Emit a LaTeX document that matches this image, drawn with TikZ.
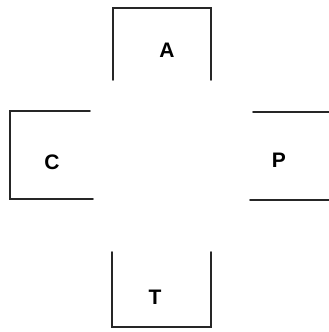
\documentclass[tikz,border=0pt]{standalone}
\usepackage{fontspec}
\setmainfont{Liberation Sans}
\begin{document}
\begin{tikzpicture}[x=1pt,y=-1pt,
  wall/.style={line width=1.8pt,black!85,line cap=round},
  lbl/.style={font=\bfseries\fontsize{21}{24}\selectfont,inner sep=0pt}]
\useasboundingbox (0,0) rectangle (329,332);
% A
\draw[wall] (113,80) -- (113,8) -- (211,8) -- (211,80);
\node[lbl] (A) at (167,50) {A};
% C
\draw[wall] (90,111) -- (10,111) -- (10,199) -- (93,199);
\node[lbl] (C) at (52,162) {C};
% P
\draw[wall] (253,112) -- (329,112);
\draw[wall] (250,200) -- (329,200);
\node[lbl] (P) at (279,160) {P};
% T
\draw[wall] (112,252) -- (112,327) -- (211,327) -- (211,252);
\node[lbl] (T) at (155,297) {T};
\end{tikzpicture}
\end{document}
